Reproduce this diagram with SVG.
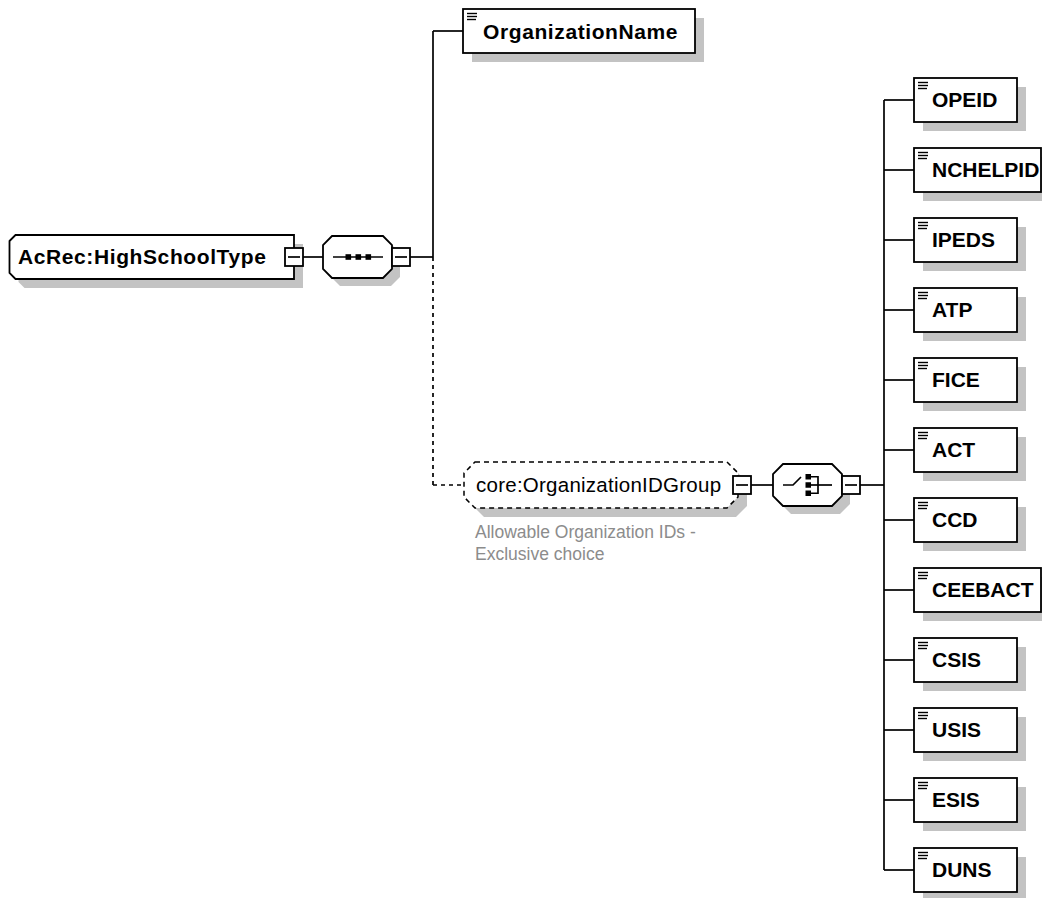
<svg xmlns="http://www.w3.org/2000/svg" width="1042" height="898" viewBox="0 0 1042 898">
<style>
.bx{fill:#fff;stroke:#000;stroke-width:1.8}
.sh{fill:#c3c3c3;stroke:none}
.ln{stroke:#000;stroke-width:1.7;fill:none}
.dash{stroke-dasharray:4 4}
.gdash{fill:#fff;stroke:#000;stroke-width:1.5;stroke-dasharray:5 4}
.nm{font-family:"Liberation Sans",Arial,sans-serif;font-weight:bold;font-size:21px;fill:#000}
.wide{letter-spacing:0.6px}
.gn{font-family:"Liberation Sans",Arial,sans-serif;font-size:20.5px;letter-spacing:0.25px;fill:#000}
.cm{font-family:"Liberation Sans",Arial,sans-serif;font-size:17.5px;fill:#8c8c8c}
.ic{stroke:#000;stroke-width:1.4}
.sq{fill:#000}
</style>
<defs>
<g id="minus"><rect class="bx" x="0" y="0" width="18" height="18"/><line class="ln" x1="3" y1="9" x2="15" y2="9"/></g>
<g id="icon"><line class="ic" x1="0" y1="0.5" x2="10" y2="0.5"/><line class="ic" x1="0" y1="3.5" x2="10" y2="3.5"/><line class="ic" x1="0" y1="6.5" x2="9" y2="6.5"/></g>
</defs>

<g id="connectors">
<line class="ln" x1="303" y1="257" x2="323" y2="257"/>
<line class="ln" x1="410" y1="257" x2="433" y2="257"/>
<line class="ln" x1="433" y1="31" x2="433" y2="257"/>
<line class="ln" x1="433" y1="31" x2="463" y2="31"/>
<line class="ln dash" x1="433" y1="257" x2="433" y2="485"/>
<line class="ln dash" x1="433" y1="485" x2="464" y2="485"/>
<line class="ln" x1="751" y1="485" x2="773" y2="485"/>
<line class="ln" x1="860" y1="485" x2="884" y2="485"/>
<line class="ln" x1="884" y1="100" x2="884" y2="870"/>
<line class="ln" x1="884" y1="100" x2="914" y2="100"/>
<line class="ln" x1="884" y1="170" x2="914" y2="170"/>
<line class="ln" x1="884" y1="240" x2="914" y2="240"/>
<line class="ln" x1="884" y1="310" x2="914" y2="310"/>
<line class="ln" x1="884" y1="380" x2="914" y2="380"/>
<line class="ln" x1="884" y1="450" x2="914" y2="450"/>
<line class="ln" x1="884" y1="520" x2="914" y2="520"/>
<line class="ln" x1="884" y1="590" x2="914" y2="590"/>
<line class="ln" x1="884" y1="660" x2="914" y2="660"/>
<line class="ln" x1="884" y1="730" x2="914" y2="730"/>
<line class="ln" x1="884" y1="800" x2="914" y2="800"/>
<line class="ln" x1="884" y1="870" x2="914" y2="870"/>
</g>

<g id="root">
<polygon class="sh" points="18.5,250 24.5,244 303,244 303,288 24.5,288 18.5,282"/>
<polygon class="bx" points="9.5,241 15.5,235 294,235 294,279 15.5,279 9.5,273"/>
<text class="nm wide" x="18" y="264">AcRec:HighSchoolType</text>
<use href="#minus" x="285" y="248"/>
</g>

<g id="sequence">
<polygon class="sh" points="340,244 391,244 400,253 400,277 391,286 340,286 331,277 331,253"/>
<polygon class="bx" points="332,236 383,236 392,245 392,269 383,278 332,278 323,269 323,245"/>
<line class="ln" x1="333" y1="257" x2="383" y2="257"/>
<rect class="sq" x="345.5" y="254.2" width="5.6" height="5.6"/>
<rect class="sq" x="355.5" y="254.2" width="5.6" height="5.6"/>
<rect class="sq" x="365.5" y="254.2" width="5.6" height="5.6"/>
<use href="#minus" x="392" y="248"/>
</g>

<g id="OrganizationName">
<rect class="sh" x="472" y="18" width="232" height="44"/>
<rect class="bx" x="463" y="9" width="232" height="44"/>
<use href="#icon" x="467" y="13"/>
<text class="nm wide" x="483" y="39">OrganizationName</text>
</g>

<g id="OrganizationIDGroup">
<polygon class="sh" points="484,471 736,471 747,482 747,506 736,517 484,517 473,506 473,482"/>
<polygon class="gdash" points="475,462 727,462 738,473 738,497 727,508 475,508 464,497 464,473"/>
<text class="gn" x="476" y="492">core:OrganizationIDGroup</text>
<use href="#minus" x="733" y="476"/>
<text class="cm" x="475" y="538">Allowable Organization IDs -</text>
<text class="cm" x="475" y="560">Exclusive choice</text>
</g>

<g id="choice">
<polygon class="sh" points="791,472 840,472 850,482 850,504 840,514 791,514 781,504 781,482"/>
<polygon class="bx" points="783,464 832,464 842,474 842,496 832,506 783,506 773,496 773,474"/>
<polyline class="ln" points="783,485 793,485 801,477"/>
<rect class="sq" x="805.5" y="474" width="5.5" height="5.5"/>
<rect class="sq" x="805.5" y="482.25" width="5.5" height="5.5"/>
<rect class="sq" x="805.5" y="490.5" width="5.5" height="5.5"/>
<polyline class="ln" points="811,476.75 818,476.75 818,493.25 811,493.25"/>
<line class="ln" x1="811" y1="485" x2="832" y2="485"/>
<use href="#minus" x="842" y="476"/>
</g>

<g id="OPEID"><rect class="sh" x="923" y="87" width="103" height="44"/><rect class="bx" x="914" y="78" width="103" height="44"/><use href="#icon" x="918" y="82"/><text class="nm" x="932" y="107">OPEID</text></g>
<g id="NCHELPID"><rect class="sh" x="923" y="157" width="127" height="44"/><rect class="bx" x="914" y="148" width="127" height="44"/><use href="#icon" x="918" y="152"/><text class="nm" x="932" y="177">NCHELPID</text></g>
<g id="IPEDS"><rect class="sh" x="923" y="227" width="103" height="44"/><rect class="bx" x="914" y="218" width="103" height="44"/><use href="#icon" x="918" y="222"/><text class="nm" x="932" y="247">IPEDS</text></g>
<g id="ATP"><rect class="sh" x="923" y="297" width="103" height="44"/><rect class="bx" x="914" y="288" width="103" height="44"/><use href="#icon" x="918" y="292"/><text class="nm" x="932" y="317">ATP</text></g>
<g id="FICE"><rect class="sh" x="923" y="367" width="103" height="44"/><rect class="bx" x="914" y="358" width="103" height="44"/><use href="#icon" x="918" y="362"/><text class="nm" x="932" y="387">FICE</text></g>
<g id="ACT"><rect class="sh" x="923" y="437" width="103" height="44"/><rect class="bx" x="914" y="428" width="103" height="44"/><use href="#icon" x="918" y="432"/><text class="nm" x="932" y="457">ACT</text></g>
<g id="CCD"><rect class="sh" x="923" y="507" width="103" height="44"/><rect class="bx" x="914" y="498" width="103" height="44"/><use href="#icon" x="918" y="502"/><text class="nm" x="932" y="527">CCD</text></g>
<g id="CEEBACT"><rect class="sh" x="923" y="577" width="127" height="44"/><rect class="bx" x="914" y="568" width="127" height="44"/><use href="#icon" x="918" y="572"/><text class="nm" x="932" y="597">CEEBACT</text></g>
<g id="CSIS"><rect class="sh" x="923" y="647" width="103" height="44"/><rect class="bx" x="914" y="638" width="103" height="44"/><use href="#icon" x="918" y="642"/><text class="nm" x="932" y="667">CSIS</text></g>
<g id="USIS"><rect class="sh" x="923" y="717" width="103" height="44"/><rect class="bx" x="914" y="708" width="103" height="44"/><use href="#icon" x="918" y="712"/><text class="nm" x="932" y="737">USIS</text></g>
<g id="ESIS"><rect class="sh" x="923" y="787" width="103" height="44"/><rect class="bx" x="914" y="778" width="103" height="44"/><use href="#icon" x="918" y="782"/><text class="nm" x="932" y="807">ESIS</text></g>
<g id="DUNS"><rect class="sh" x="923" y="857" width="103" height="44"/><rect class="bx" x="914" y="848" width="103" height="44"/><use href="#icon" x="918" y="852"/><text class="nm" x="932" y="877">DUNS</text></g>
</svg>
